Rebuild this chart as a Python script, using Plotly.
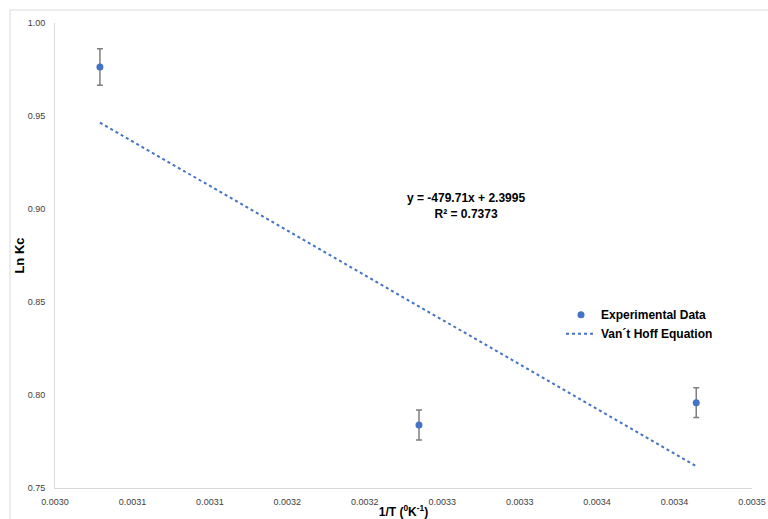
import plotly.graph_objects as go

# ---- data ----
inv_T = [0.003029, 0.003235, 0.003414]          # 1/T (K^-1)
ln_kc = [0.9763, 0.7839, 0.7959]                # Ln Kc
ln_kc_err = [0.0098, 0.0081, 0.0080]            # error bar half-lengths
slope = -479.71
intercept = 2.3995
r_squared = 0.7373

x_tick_vals = [0.00300, 0.00305, 0.00310, 0.00315, 0.00320,
               0.00325, 0.00330, 0.00335, 0.00340, 0.00345]
x_tick_text = ["0.0030", "0.0031", "0.0031", "0.0032", "0.0032",
               "0.0033", "0.0033", "0.0034", "0.0034", "0.0035"]
y_tick_vals = [0.75, 0.80, 0.85, 0.90, 0.95, 1.00]
y_tick_text = ["0.75", "0.80", "0.85", "0.90", "0.95", "1.00"]

trend_x = [min(inv_T), max(inv_T)]
trend_y = [slope * x + intercept for x in trend_x]

BLUE = "#4472C4"
AXIS = "#D9D9D9"
FONT = "Liberation Sans, Arial, sans-serif"

fig = go.Figure()
fig.add_trace(go.Scatter(
    x=inv_T, y=ln_kc, mode="markers", name="Experimental Data",
    marker=dict(color=BLUE, size=7),
    error_y=dict(type="data", array=ln_kc_err, visible=True,
                 color="#7F7F7F", thickness=1.5, width=3),
))
fig.add_trace(go.Scatter(
    x=trend_x, y=trend_y, mode="lines", name="Van\u00b4t Hoff Equation",
    line=dict(color=BLUE, width=2, dash="dot"),
))

fig.update_layout(
    width=768, height=519,
    margin=dict(l=55, r=16, t=23, b=31),
    paper_bgcolor="white", plot_bgcolor="white",
    font=dict(family=FONT, color="#000000"),
    showlegend=True,
    legend=dict(x=0.726, y=0.404, xanchor="left", yanchor="top",
                font=dict(size=12, family=FONT, color="#000000", weight="bold"),
                bgcolor="rgba(0,0,0,0)", tracegroupgap=0),
    xaxis=dict(range=[0.0030, 0.00345], tickvals=x_tick_vals, ticktext=x_tick_text,
               showline=True, linecolor=AXIS, linewidth=1, showgrid=False,
               zeroline=False, ticks="", ticklabelstandoff=5,
               tickfont=dict(size=9, family=FONT, color="#404040"),
               title=dict(text="1/T (<sup>0</sup>K<sup>-1</sup>)", standoff=4,
                          font=dict(size=12, family=FONT, color="#000000", weight="bold")),
               automargin=False),
    yaxis=dict(range=[0.75, 1.00], tickvals=y_tick_vals, ticktext=y_tick_text,
               showline=True, linecolor=AXIS, linewidth=1, showgrid=False,
               zeroline=False, ticks="", ticklabelstandoff=7,
               tickfont=dict(size=9, family=FONT, color="#404040"),
               title=dict(text="Ln Kc", standoff=0,
                          font=dict(size=13, family=FONT, color="#000000", weight="bold")),
               automargin=False),
    annotations=[dict(
        xref="paper", yref="paper", x=0.590, y=0.606,
        text=f"y = {slope}x + {intercept}<br>R\u00b2 = {r_squared}",
        showarrow=False, align="center",
        font=dict(size=12, family=FONT, color="#000000", weight="bold"),
    )],
    shapes=[dict(type="rect", xref="paper", yref="paper",
                 x0=-0.0646, y0=-0.2, x1=1.1, y1=1.028,
                 line=dict(color=AXIS, width=1), fillcolor="rgba(0,0,0,0)")],
)

fig.write_html(
    "out.html",
    config={"displayModeBar": False},
    post_script="document.body.style.margin='0';"
                "document.documentElement.style.overflow='hidden';"
                "document.body.style.overflow='hidden';",
)
